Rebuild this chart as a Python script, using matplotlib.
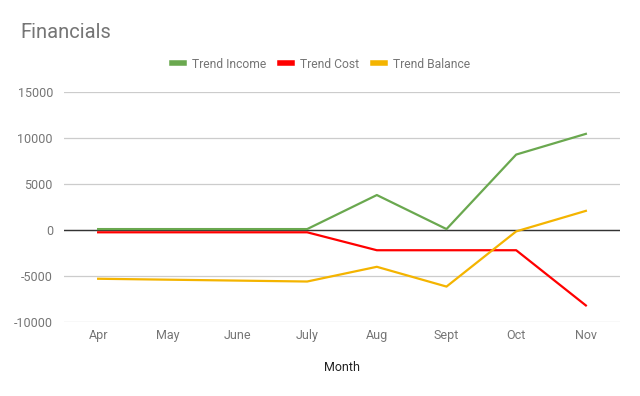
import matplotlib
matplotlib.use("Agg")
import matplotlib.pyplot as plt

months = ["Apr", "May", "June", "July", "Aug", "Sept", "Oct", "Nov"]
trend_income = [100, 100, 100, 100, 3800, 100, 8200, 10450]
trend_cost = [-250, -250, -250, -250, -2200, -2200, -2200, -8200]
trend_balance = [-5300, -5400, -5500, -5600, -4000, -6150, -150, 2080]
yticks = [-10000, -5000, 0, 5000, 10000, 15000]

plt.rcParams['font.family'] = ['Roboto', 'DejaVu Sans']

fig = plt.figure(figsize=(6.4, 3.96), dpi=100)
ax = fig.add_axes([64/640, 1 - 322/396, (620 - 64)/640, (322 - 92)/396])

x = list(range(len(months)))
ax.plot(x, trend_income, color="#6aa84f", lw=1.6, label="Trend Income", zorder=3)
ax.plot(x, trend_cost, color="#ff0000", lw=1.6, label="Trend Cost", zorder=3)
ax.plot(x, trend_balance, color="#f4b400", lw=1.6, label="Trend Balance", zorder=3)

ax.set_xlim(-0.49, len(months) - 0.51)
ax.set_ylim(-10000, 15000)
ax.set_yticks(yticks)
ax.set_yticklabels([str(v) for v in yticks])
ax.set_xticks(x)
ax.set_xticklabels(months)
ax.grid(axis="y", color="#cccccc", lw=0.9)
ax.axhline(0, color="#333333", lw=1.0, zorder=2)
for s in ax.spines.values():
    s.set_visible(False)
ax.tick_params(axis="both", length=0, labelsize=9, labelcolor="#757575")
ax.tick_params(axis="x", pad=5)
ax.tick_params(axis="y", pad=8)
ax.set_xlabel("Month", fontsize=9, color="#222222", labelpad=14)

fig.text(20/640, 1 - 32/396, "Financials", fontsize=14.5, color="#757575", va="center", ha="left")
fig.legend(loc="center", bbox_to_anchor=(321/640, 1 - 64/396), ncol=3, frameon=False,
           fontsize=8.7, labelcolor="#757575", handlelength=1.0, handletextpad=0.65,
           columnspacing=1.15)
for line in fig.legends[0].get_lines():
    line.set_linewidth(4)

fig.savefig("out.png", dpi=100)
